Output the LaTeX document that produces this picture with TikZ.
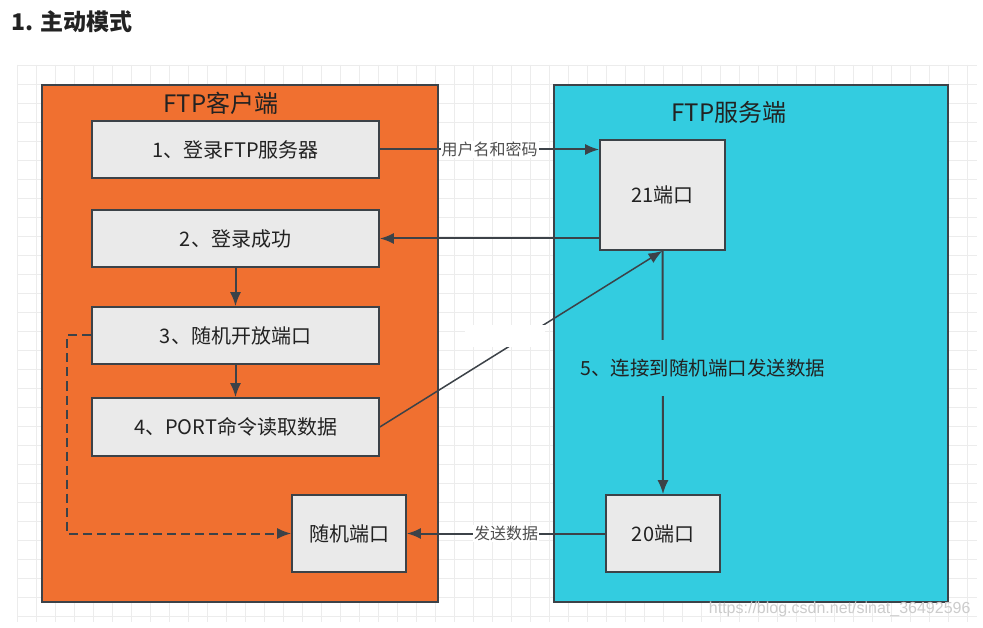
\documentclass[tikz,border=0pt]{standalone}
\usepackage{fontspec}
\setmainfont{Noto Sans CJK SC}
\newfontfamily\wmfont{Liberation Sans}
\usetikzlibrary{arrows.meta}
\definecolor{orangebg}{HTML}{F07030}
\definecolor{cyanbg}{HTML}{33CCE0}
\definecolor{boxfill}{HTML}{EAEAEA}
\definecolor{edge}{HTML}{3C4248}
\definecolor{ink}{HTML}{222222}
\definecolor{gridc}{HTML}{ECECEC}
\tikzset{
  panel/.style={draw=edge, line width=2pt, inner sep=0pt},
  stepbox/.style={draw=edge, fill=boxfill, line width=1.6pt, inner sep=0pt, text=ink, font=\fontsize{20}{23}\selectfont},
  conn/.style={draw=edge, line width=2pt, -{Latex[length=14pt,width=11pt]}},
  lbl/.style={fill=white, inner sep=1pt, text=ink!80, font=\fontsize{16}{18}\selectfont},
  paneltitle/.style={text=ink, font=\fontsize{24}{28}\selectfont},
}
\begin{document}
\begin{tikzpicture}[x=1pt,y=-1pt]
\useasboundingbox (0,0) rectangle (983,628);
\fill[white] (0,0) rectangle (983,628);
% background grid
\foreach \gx in {17,36,...,977} {\draw[gridc, line width=0.7pt] (\gx,65) -- (\gx,622);}
\foreach \gy in {65,84,...,622} {\draw[gridc, line width=0.7pt] (17,\gy) -- (977,\gy);}
% title
\node[anchor=west, text=ink, font=\fontsize{23}{26}\selectfont\bfseries] (title) at (8,22) {1. 主动模式};
% panels
\node[panel, fill=orangebg, minimum width=396, minimum height=517] (client) at (240,343.5) {};
\node[panel, fill=cyanbg, minimum width=394, minimum height=517] (server) at (751,343.5) {};
\node[paneltitle] (ctitle) at (221,103) {FTP客户端};
\node[paneltitle] (stitle) at (729,112) {FTP服务端};
% client steps
\node[stepbox, minimum width=287, minimum height=57] (b1) at (235.5,149.5) {1、登录FTP服务器};
\node[stepbox, minimum width=287, minimum height=57] (b2) at (235.5,238.5) {2、登录成功};
\node[stepbox, minimum width=287, minimum height=57] (b3) at (235.5,335.5) {3、随机开放端口};
\node[stepbox, minimum width=287, minimum height=58] (b4) at (235.5,427) {4、PORT命令读取数据};
\node[stepbox, minimum width=114, minimum height=77] (rp) at (349,533.5) {随机端口};
% server ports
\node[stepbox, minimum width=125, minimum height=110] (p21) at (662.5,195) {21端口};
\node[stepbox, minimum width=114, minimum height=77] (p20) at (663,533.5) {20端口};
% connectors
\draw[conn] (b1.east) -- node[lbl] (l1) {用户名和密码} (b1.east -| p21.west);
\draw[conn] (p21.west |- b2.east) -- (b2.east);
\draw[conn] (b2.south) -- (b3.north);
\draw[conn] (b3.south) -- (b4.north);
\draw[conn, line width=1.5pt] (b4.east) -- (p21.south);
\node[fill=white, minimum width=80, minimum height=22, inner sep=0pt] (blank) at (505,336) {};
\draw[conn, dashed, dash pattern=on 9pt off 5pt] (b3.west) -- ++(-24,0) |- (rp.west);
\draw[conn] (p20.west) -- node[lbl] (l2) {发送数据} (rp.east);
\draw[conn] (p21.south) -- (p20.north);
\node[fill=cyanbg, minimum height=55, inner sep=2pt, text=ink, font=\fontsize{19.5}{22}\selectfont] (l5) at (703,368) {5、连接到随机端口发送数据};
% watermark
\node[anchor=east, text=black!20, font=\wmfont\fontsize{16}{18}\selectfont] (wm) at (974,609) {https://blog.csdn.net/sinat\_36492596};
\end{tikzpicture}
\end{document}
